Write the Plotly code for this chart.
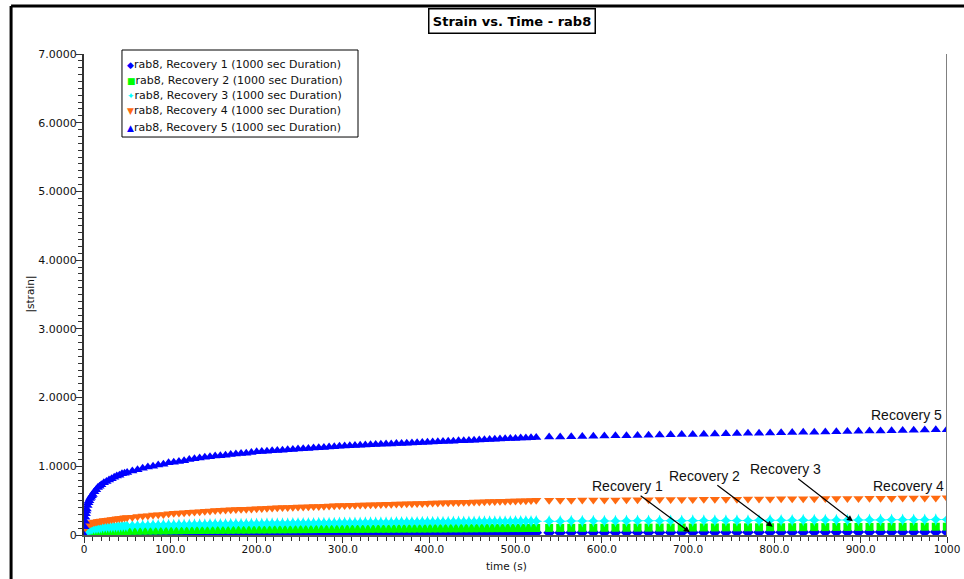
import plotly.graph_objects as go

# ---- time samples (s) ----
T_EARLY = [0, 0.5, 1, 1.5, 2, 2.5, 3, 4, 5, 6,
           7, 8, 9, 10, 12, 14, 16, 18, 20, 23,
           26, 29, 32, 35, 38, 41, 44, 47, 50]
T_MID = [56, 62, 68, 74, 80, 86, 92, 98, 104, 110,
         116, 122, 128, 134, 140, 146, 152, 158, 164, 170,
         176, 182, 188, 194, 200, 206, 212, 218, 224, 230,
         236, 242, 248, 254, 260, 266, 272, 278, 284, 290,
         296, 302, 308, 314, 320, 326, 332, 338, 344, 350,
         356, 362, 368, 374, 380, 386, 392, 398, 404, 410,
         416, 422, 428, 434, 440, 446, 452, 458, 464, 470,
         476, 482, 488, 494, 500, 506, 512, 518, 524]
T_LATE = [539, 551.8, 564.6, 577.4, 590.2, 603, 615.8, 628.6, 641.4, 654.2,
          667, 679.8, 692.6, 705.4, 718.2, 731, 743.8, 756.6, 769.4, 782.2,
          795, 807.8, 820.6, 833.4, 846.2, 859, 871.8, 884.6, 897.4, 910.2,
          923, 935.8, 948.6, 961.4, 974.2, 987, 999.8]

# ---- |strain| values ----
R1 = [0.0, 0.002, 0.003, 0.004, 0.005, 0.005, 0.006, 0.006, 0.007, 0.007,
      0.008, 0.008, 0.008, 0.009, 0.009, 0.01, 0.01, 0.01, 0.011, 0.011,
      0.012, 0.012, 0.012, 0.013, 0.013, 0.013, 0.014, 0.014, 0.014,
      0.015, 0.015, 0.016, 0.016, 0.016, 0.017, 0.017, 0.017, 0.018, 0.018,
      0.018, 0.019, 0.019, 0.019, 0.02, 0.02, 0.02, 0.021, 0.021, 0.021,
      0.022, 0.022, 0.022, 0.022, 0.023, 0.023, 0.023, 0.023, 0.024, 0.024,
      0.024, 0.024, 0.025, 0.025, 0.025, 0.025, 0.026, 0.026, 0.026, 0.026,
      0.027, 0.027, 0.027, 0.027, 0.028, 0.028, 0.028, 0.028, 0.028, 0.029,
      0.029, 0.029, 0.029, 0.029, 0.03, 0.03, 0.03, 0.03, 0.03, 0.031,
      0.031, 0.031, 0.031, 0.031, 0.031, 0.032, 0.032, 0.032, 0.032, 0.032,
      0.032, 0.033, 0.033, 0.033, 0.033, 0.033, 0.033, 0.034, 0.034,
      0.034, 0.034, 0.035, 0.035, 0.035, 0.036, 0.036, 0.036, 0.037, 0.037,
      0.037, 0.038, 0.038, 0.038, 0.039, 0.039, 0.039, 0.04, 0.04, 0.04,
      0.04, 0.041, 0.041, 0.041, 0.042, 0.042, 0.042, 0.042, 0.043, 0.043,
      0.043, 0.043, 0.044, 0.044, 0.044, 0.045, 0.045]
R2 = [0.0, 0.005, 0.01, 0.012, 0.015, 0.017, 0.019, 0.022, 0.025, 0.027,
      0.029, 0.031, 0.033, 0.034, 0.037, 0.039, 0.041, 0.043, 0.045, 0.047,
      0.049, 0.051, 0.053, 0.054, 0.056, 0.057, 0.058, 0.059, 0.06,
      0.061, 0.062, 0.063, 0.064, 0.065, 0.066, 0.067, 0.068, 0.069, 0.07,
      0.071, 0.072, 0.072, 0.073, 0.074, 0.075, 0.075, 0.076, 0.077, 0.077,
      0.078, 0.079, 0.079, 0.08, 0.081, 0.081, 0.082, 0.082, 0.083, 0.083,
      0.084, 0.084, 0.085, 0.085, 0.086, 0.086, 0.087, 0.087, 0.088, 0.088,
      0.089, 0.089, 0.09, 0.09, 0.09, 0.091, 0.091, 0.092, 0.092, 0.092,
      0.093, 0.093, 0.094, 0.094, 0.094, 0.095, 0.095, 0.095, 0.096, 0.096,
      0.096, 0.097, 0.097, 0.097, 0.098, 0.098, 0.098, 0.099, 0.099, 0.099,
      0.1, 0.1, 0.1, 0.101, 0.101, 0.101, 0.102, 0.102, 0.102,
      0.103, 0.103, 0.104, 0.104, 0.105, 0.105, 0.106, 0.106, 0.107, 0.107,
      0.108, 0.108, 0.109, 0.109, 0.11, 0.11, 0.111, 0.111, 0.112, 0.112,
      0.113, 0.113, 0.114, 0.114, 0.115, 0.115, 0.116, 0.116, 0.117, 0.117,
      0.118, 0.118, 0.119, 0.119, 0.12, 0.12, 0.121]
R3 = [0.02, 0.04, 0.05, 0.06, 0.065, 0.07, 0.075, 0.08, 0.085, 0.088,
      0.09, 0.093, 0.095, 0.097, 0.10, 0.103, 0.106, 0.108, 0.11, 0.113,
      0.116, 0.118, 0.12, 0.122, 0.124, 0.126, 0.128, 0.13, 0.131,
      0.133, 0.135, 0.137, 0.139, 0.14, 0.142, 0.143, 0.145, 0.146, 0.147,
      0.148, 0.15, 0.151, 0.152, 0.153, 0.154, 0.155, 0.156, 0.157, 0.158,
      0.159, 0.16, 0.161, 0.162, 0.163, 0.164, 0.165, 0.166, 0.167, 0.168,
      0.168, 0.169, 0.17, 0.171, 0.172, 0.172, 0.173, 0.174, 0.175, 0.175,
      0.176, 0.177, 0.178, 0.178, 0.179, 0.18, 0.18, 0.181, 0.182, 0.182,
      0.183, 0.184, 0.184, 0.185, 0.186, 0.186, 0.187, 0.188, 0.188, 0.189,
      0.19, 0.19, 0.191, 0.191, 0.192, 0.193, 0.193, 0.194, 0.194, 0.195,
      0.195, 0.196, 0.197, 0.197, 0.198, 0.198, 0.199, 0.199, 0.2,
      0.20, 0.201, 0.202, 0.202, 0.203, 0.204, 0.204, 0.205, 0.206, 0.206,
      0.207, 0.208, 0.208, 0.209, 0.21, 0.21, 0.211, 0.212, 0.212, 0.213,
      0.214, 0.214, 0.215, 0.216, 0.216, 0.217, 0.218, 0.218, 0.219, 0.22,
      0.22, 0.221, 0.222, 0.222, 0.223, 0.224, 0.225]
R4 = [0.08, 0.10, 0.11, 0.12, 0.13, 0.135, 0.14, 0.15, 0.155, 0.16,
      0.165, 0.17, 0.175, 0.18, 0.185, 0.19, 0.195, 0.20, 0.205, 0.21,
      0.215, 0.22, 0.225, 0.23, 0.235, 0.24, 0.245, 0.25, 0.255,
      0.26, 0.27, 0.275, 0.28, 0.29, 0.295, 0.30, 0.31, 0.315, 0.32,
      0.325, 0.33, 0.335, 0.34, 0.345, 0.35, 0.355, 0.36, 0.363, 0.366,
      0.37, 0.373, 0.376, 0.38, 0.383, 0.386, 0.39, 0.393, 0.396, 0.40,
      0.402, 0.404, 0.406, 0.408, 0.41, 0.413, 0.416, 0.419, 0.422, 0.425,
      0.428, 0.43, 0.432, 0.434, 0.436, 0.438, 0.44, 0.442, 0.444, 0.446,
      0.448, 0.45, 0.452, 0.454, 0.456, 0.458, 0.46, 0.462, 0.464, 0.466,
      0.468, 0.47, 0.472, 0.474, 0.476, 0.478, 0.48, 0.482, 0.484, 0.486,
      0.488, 0.49, 0.492, 0.494, 0.496, 0.498, 0.50, 0.502, 0.504,
      0.505, 0.506, 0.507, 0.508, 0.509, 0.51, 0.511, 0.512, 0.513, 0.514,
      0.515, 0.516, 0.517, 0.518, 0.519, 0.52, 0.521, 0.522, 0.523, 0.524,
      0.525, 0.526, 0.527, 0.528, 0.529, 0.53, 0.531, 0.532, 0.533, 0.534,
      0.535, 0.536, 0.537, 0.538, 0.539, 0.54, 0.541]
R5 = [0.00, 0.12, 0.20, 0.26, 0.31, 0.35, 0.38, 0.43, 0.47, 0.50,
      0.53, 0.55, 0.57, 0.59, 0.63, 0.66, 0.69, 0.71, 0.73, 0.76,
      0.78, 0.80, 0.82, 0.84, 0.86, 0.87, 0.89, 0.90, 0.91,
      0.93, 0.95, 0.97, 0.99, 1.00, 1.02, 1.03, 1.05, 1.06, 1.07,
      1.08, 1.10, 1.11, 1.12, 1.13, 1.14, 1.15, 1.155, 1.16, 1.17,
      1.18, 1.185, 1.19, 1.20, 1.21, 1.215, 1.22, 1.225, 1.23, 1.235,
      1.24, 1.245, 1.25, 1.255, 1.26, 1.265, 1.27, 1.275, 1.28, 1.285,
      1.29, 1.295, 1.30, 1.303, 1.306, 1.31, 1.313, 1.316, 1.32, 1.323,
      1.326, 1.33, 1.333, 1.336, 1.34, 1.343, 1.346, 1.35, 1.353, 1.356,
      1.36, 1.363, 1.366, 1.37, 1.373, 1.376, 1.38, 1.383, 1.386, 1.39,
      1.393, 1.396, 1.40, 1.403, 1.406, 1.41, 1.413, 1.416, 1.42,
      1.425, 1.428, 1.431, 1.434, 1.437, 1.44, 1.443, 1.446, 1.449, 1.452,
      1.455, 1.458, 1.461, 1.464, 1.467, 1.47, 1.473, 1.476, 1.479, 1.482,
      1.485, 1.488, 1.491, 1.494, 1.497, 1.50, 1.503, 1.506, 1.509, 1.512,
      1.515, 1.518, 1.521, 1.524, 1.527, 1.53, 1.533]

TIME = T_EARLY + T_MID + T_LATE

NAMES = ["rab8, Recovery 1 (1000 sec Duration)",
         "rab8, Recovery 2 (1000 sec Duration)",
         "rab8, Recovery 3 (1000 sec Duration)",
         "rab8, Recovery 4 (1000 sec Duration)",
         "rab8, Recovery 5 (1000 sec Duration)"]
SERIES = [R1, R2, R3, R4, R5]
COLORS = ["#0000FF", "#00FF00", "#00FFFF", "#FF6A10", "#0000FF"]
SYMBOLS = ["diamond", "square", "star-diamond", "triangle-down", "triangle-up"]
GLYPHS = ["\u25C6", "\u25A0", "\u2726", "\u25BC", "\u25B2"]
SIZES = [9, 8, 9, 9, 9]

X_TICKS = [0, 100, 200, 300, 400, 500, 600, 700, 800, 900, 1000]
X_TICKTEXT = ["0", "100.0", "200.0", "300.0", "400.0", "500.0",
              "600.0", "700.0", "800.0", "900.0", "1000"]
Y_TICKS = [0, 1, 2, 3, 4, 5, 6, 7]
Y_TICKTEXT = ["0", "1.0000", "2.0000", "3.0000", "4.0000",
              "5.0000", "6.0000", "7.0000"]

ARIAL = "Liberation Sans, Arial, sans-serif"
WIDE = "DejaVu Sans, Verdana, sans-serif"

fig = go.Figure()
for name, vals, col, sym, sz in zip(NAMES, SERIES, COLORS, SYMBOLS, SIZES):
    n = min(len(TIME), len(vals))
    fig.add_trace(go.Scatter(
        x=TIME[:n], y=vals[:n], mode="markers", name=name, showlegend=False,
        marker=dict(color=col, symbol=sym, size=sz, line=dict(width=0)),
    ))

# legend box (drawn as a framed list of entries)
fig.add_shape(type="rect", xref="paper", yref="paper",
              x0=0.044, x1=0.3175, y0=0.8274, y1=1.0083,
              line=dict(color="black", width=1), fillcolor="white")
LEG_Y = [0.9792, 0.9459, 0.9127, 0.8815, 0.8482]
for name, col, g, ly in zip(NAMES, COLORS, GLYPHS, LEG_Y):
    fig.add_annotation(xref="paper", yref="paper", x=0.0475, y=ly,
                       xanchor="left", yanchor="middle", showarrow=False,
                       text=f'<span style="color:{col};font-size:9px">{g}</span>{name}',
                       font=dict(family=WIDE, size=11, color="#111"))

# arrow annotations
arrows = [
    ("Recovery 1", 702, 0.04, -62, -46),
    ("Recovery 2", 798, 0.12, -68, -51),
    ("Recovery 3", 891, 0.20, -67, -52),
]
for txt, x, y, ax, ay in arrows:
    fig.add_annotation(x=x, y=y, ax=ax, ay=ay, text=txt, showarrow=True,
                       arrowhead=2, arrowsize=1, arrowwidth=1.2,
                       arrowcolor="black", standoff=0,
                       font=dict(family=ARIAL, size=14, color="#111"))
fig.add_annotation(x=955, y=0.713, text="Recovery 4", showarrow=False,
                   font=dict(family=ARIAL, size=14, color="#111"))
fig.add_annotation(x=952.5, y=1.747, text="Recovery 5", showarrow=False,
                   font=dict(family=ARIAL, size=14, color="#111"))

# chart title in a box
fig.add_annotation(xref="paper", yref="paper", x=0.4954, y=1.0686,
                   xanchor="center", yanchor="middle",
                   text="<b>Strain vs. Time - rab8</b>", showarrow=False,
                   width=163, height=21, borderpad=1,
                   bordercolor="black", borderwidth=1.5, bgcolor="white",
                   font=dict(family=WIDE, size=13, color="black"))

# axis titles
fig.add_annotation(xref="paper", yref="paper", x=-0.0625, y=0.5,
                   text="|strain|", textangle=-90, showarrow=False,
                   xanchor="center", yanchor="middle",
                   font=dict(family=WIDE, size=10.5, color="#111"))
fig.add_annotation(xref="paper", yref="paper", x=0.49, y=-0.0645,
                   text="time (s)", showarrow=False,
                   xanchor="center", yanchor="middle",
                   font=dict(family=WIDE, size=10.5, color="#111"))

# right boundary line and outer frame
fig.add_shape(type="line", xref="x", yref="y", x0=1000, x1=1000, y0=0, y1=7,
              line=dict(color="#808080", width=2))
fig.add_shape(type="line", xref="paper", yref="paper", x0=-0.0845, x1=-0.0845,
              y0=-0.2, y1=1.0998, line=dict(color="black", width=3))
fig.add_shape(type="line", xref="paper", yref="paper", x0=-0.0845, x1=1.2,
              y0=1.0998, y1=1.0998, line=dict(color="black", width=3))

fig.update_layout(
    width=964, height=579,
    margin=dict(l=84, r=17, t=54, b=44, autoexpand=False),
    paper_bgcolor="white", plot_bgcolor="white",
    font=dict(family=WIDE, size=11, color="#111"),
    showlegend=False,
    xaxis=dict(range=[0, 1000], tickmode="array", tickvals=X_TICKS,
               ticktext=X_TICKTEXT, showgrid=False, zeroline=False,
               automargin=False,
               showline=True, linecolor="#555555", linewidth=2,
               ticks="outside", ticklen=6, tickcolor="#333", tickwidth=1,
               tickfont=dict(family=WIDE, size=10.5, color="#111"),
               minor=dict(dtick=10, ticks="outside", ticklen=4,
                          tickcolor="#333", tickwidth=1, showgrid=False)),
    yaxis=dict(range=[0, 7], tickmode="array", tickvals=Y_TICKS,
               ticktext=Y_TICKTEXT, showgrid=False, zeroline=False,
               automargin=False,
               showline=True, linecolor="#333333", linewidth=2,
               ticks="outside", ticklen=6, tickcolor="#333", tickwidth=1,
               tickfont=dict(family=WIDE, size=11, color="#111"),
               minor=dict(dtick=0.1, ticks="outside", ticklen=4,
                          tickcolor="#333", tickwidth=1, showgrid=False)),
)
try:
    fig.update_layout(xaxis_ticklabelstandoff=-3, yaxis_ticklabelstandoff=-3)
except Exception:
    pass

fig.write_html("out.html")
